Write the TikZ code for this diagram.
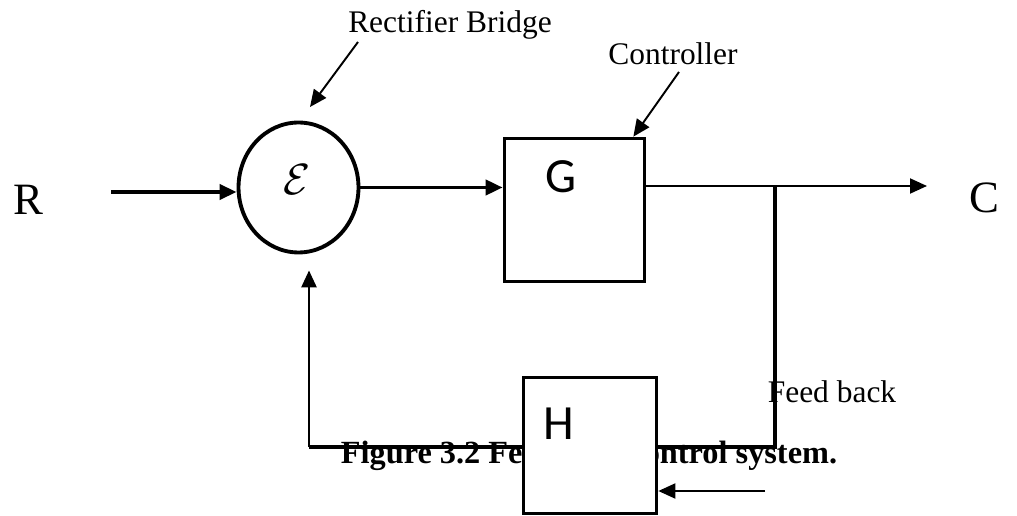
\documentclass[tikz,border=0pt]{standalone}
\usepackage{fontspec}
\setmainfont{Liberation Serif}
\newfontfamily\blockfont{Carlito}
\usetikzlibrary{shapes,arrows.meta,positioning,calc}

\tikzset{
  thickline/.style={line width=2.2pt},
  thinline/.style={line width=1.1pt},
  block/.style={draw, line width=2.1pt, fill=white, inner sep=0pt},
  blocktxt/.style={font=\blockfont\fontsize{28}{28}\selectfont, anchor=base, inner sep=0pt},
  note/.style={font=\fontsize{17.9}{20}\selectfont, anchor=base},
  sig/.style={font=\fontsize{25.5}{28}\selectfont, anchor=base},
}

\begin{document}
\begin{tikzpicture}[x=0.02cm, y=-0.02cm, >={Triangle[length=0.34cm,width=0.3cm]}]
        \useasboundingbox (0,0) rectangle (1017,516);
        % input and output
        \node[sig] (R) at (28,215) {R};
        \node[sig] (C) at (984,213) {C};
        % summing point
        \node[draw, ellipse, line width=2.2pt, minimum width=2.4cm, minimum height=2.6cm, inner sep=0pt] (sum) at (298.5,187.5) {};
        \node (eps) at (297,180) {\fontsize{24.88}{26}\selectfont$\mathcal{E}$};
        % forward path
        \node[block, minimum width=2.8cm, minimum height=2.86cm] (G) at (574.5,210) {};
        \node[blocktxt] (Gtxt) at (561,193) {G};
        \coordinate (rin) at (111,192);
        \draw[->, thickline] (rin) -- (rin -| sum.west);
        \draw[->, thickline] (sum.east) -- (sum.east -| G.west);
        \coordinate (tap) at (775,186);
        \coordinate (cout) at (927,186);
        \draw[->, thinline] (tap -| G.east) -- (cout);
        % feedback path
        \node[note] (fb) at (832,403) {Feed back};
        \coordinate (fbr) at (775,447);
        \coordinate (fbl) at (309,447);
        \draw[thickline] (tap) -- (fbr) -- (fbl);
        \draw[->, line width=1.5pt, shorten >=0.32cm] (fbl) -- (fbl |- sum.south);
        \node[note, font=\bfseries\fontsize{18.4}{20}\selectfont] (cap) at (589,463) {Figure 3.2 Feedback control system.};
        \node[block, minimum width=2.66cm, minimum height=2.72cm] (H) at (590,445.5) {};
        \node[blocktxt] (Htxt) at (559,439) {H};
        \coordinate (hin) at (765,491);
        \draw[->, thinline] (hin) -- (hin -| H.east);
        % labels
        \node[note] (rect) at (450,33) {Rectifier Bridge};
        \coordinate (rtail) at (358,42);
        \coordinate (rtip) at (310,107);
        \draw[->, thinline] (rtail) -- (rtip);
        \node[note] (ctrl) at (673,65) {Controller};
        \coordinate (ctail) at (679,72);
        \draw[->, thinline] (ctail) -- ([xshift=-0.26cm]G.north east);
\end{tikzpicture}
\end{document}
